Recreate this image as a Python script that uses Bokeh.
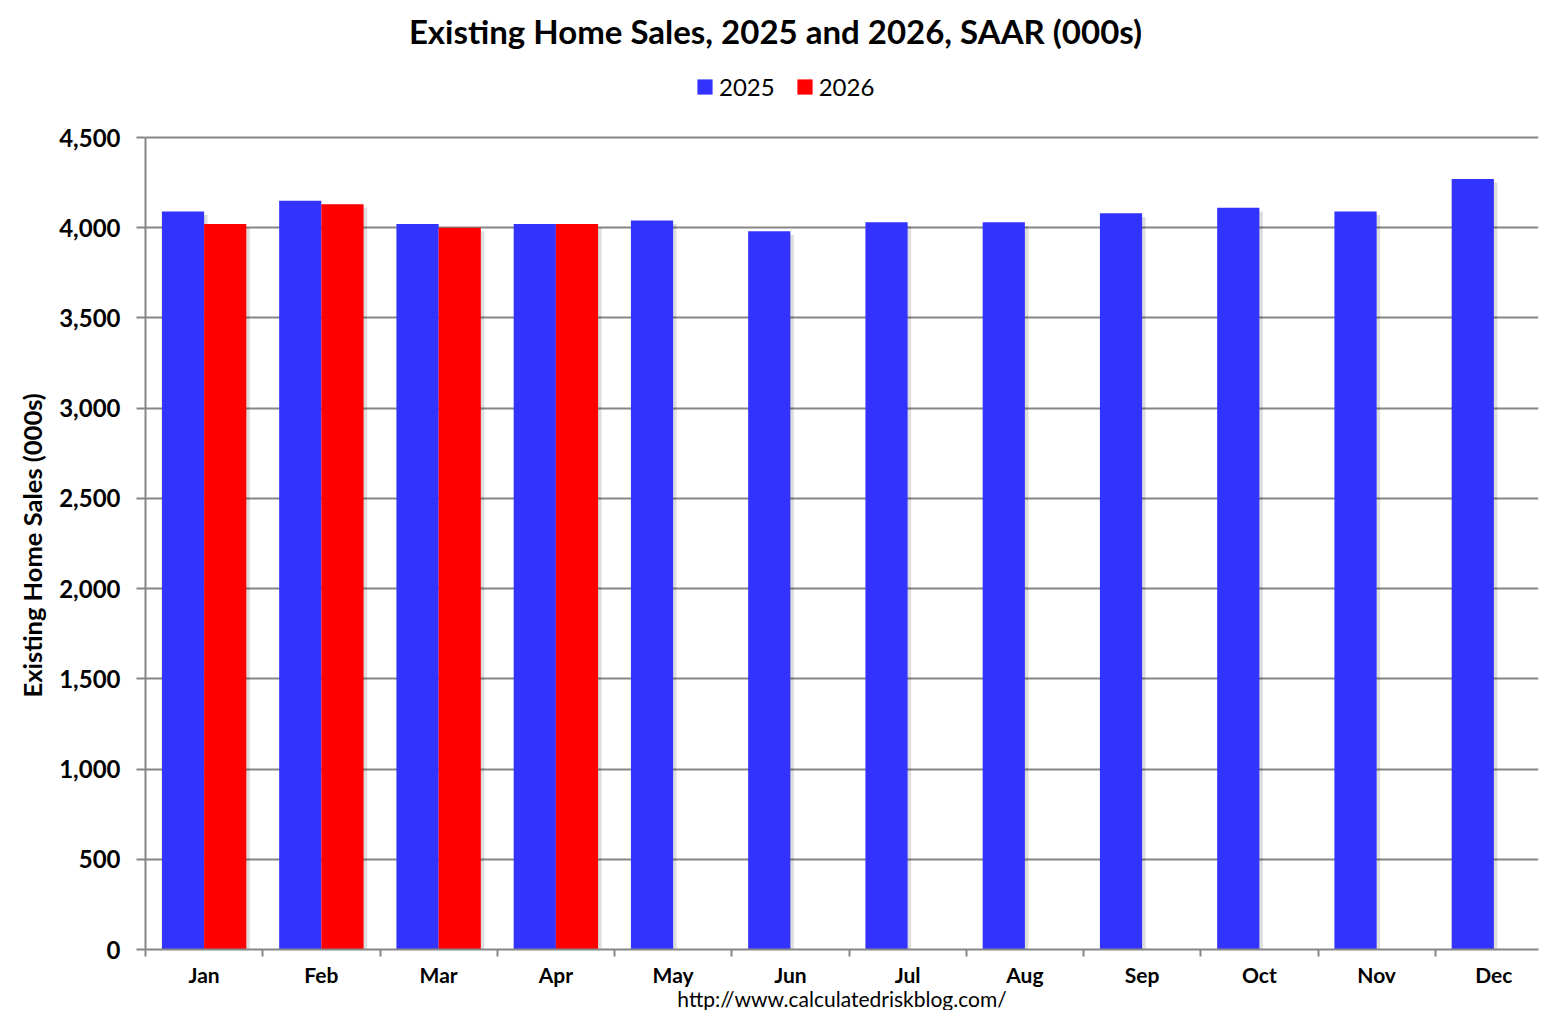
from bokeh.plotting import figure
from bokeh.models import (ColumnDataSource, Legend, LegendItem, Label, FixedTicker,
                          NumeralTickFormatter, Range1d, Title)
from bokeh.embed import file_html
from bokeh.resources import INLINE

# ---- data ----
months = ["Jan", "Feb", "Mar", "Apr", "May", "Jun", "Jul", "Aug", "Sep", "Oct", "Nov", "Dec"]
sales_2025 = [4090, 4150, 4020, 4020, 4040, 3980, 4030, 4030, 4080, 4110, 4090, 4270]
sales_2026 = [4020, 4130, 4000, 4020]
y_ticks = [0, 500, 1000, 1500, 2000, 2500, 3000, 3500, 4000, 4500]
title_text = "Existing Home Sales,  2025 and 2026, SAAR (000s)"
y_title = "Existing Home Sales (000s)"
footer_text = "http://www.calculatedriskblog.com/"

BLUE = "#3333FF"
RED = "#FF0000"
GRID = "#868686"
FONT = "Lato"

OFF = 0.18
W = 0.36

# layout (pixels)
FIG_W, FIG_H = 1540, 1010
LEFT, RIGHT, TOP, BOTTOM = 145, 2, 0, 61
FRAME_W = FIG_W - LEFT - RIGHT
FRAME_H = FIG_H - TOP - BOTTOM
CAT_PX = 117.25          # pixel width of one month
Y_TOP_PX = 137           # pixel row of 4,500 (from top)
y_end = 4500 * FRAME_H / (FRAME_H - Y_TOP_PX)
x_end = FRAME_W / CAT_PX

x25 = [i + 0.5 - OFF for i in range(len(sales_2025))]
x26 = [i + 0.5 + OFF for i in range(len(sales_2026))]
src25 = ColumnDataSource(dict(x=x25, top=sales_2025, xs=[v + 0.03 for v in x25],
                              ts=[v - 20 for v in sales_2025]))
src26 = ColumnDataSource(dict(x=x26, top=sales_2026, xs=[v + 0.03 for v in x26],
                              ts=[v - 20 for v in sales_2026]))

p = figure(width=FIG_W, height=FIG_H, output_backend="svg", toolbar_location=None,
           title=None, x_range=Range1d(0, x_end), y_range=Range1d(0, y_end),
           min_border_left=LEFT, min_border_right=RIGHT, min_border_top=TOP,
           min_border_bottom=BOTTOM)
p.outline_line_color = None
p.background_fill_color = "white"
p.border_fill_color = "white"

# shadows
for s in (src25, src26):
    p.vbar(x="xs", top="ts", width=W, bottom=0, source=s, fill_color="#000000",
           fill_alpha=0.13, line_color=None)
r25 = p.vbar(x="x", top="top", width=W, bottom=0, source=src25, fill_color=BLUE, line_color=None)
r26 = p.vbar(x="x", top="top", width=W, bottom=0, source=src26, fill_color=RED, line_color=None)

# axes
xa = p.xaxis[0]
xa.ticker = FixedTicker(ticks=[i + 0.5 for i in range(12)], minor_ticks=list(range(13)))
xa.major_label_overrides = {i + 0.5: m for i, m in enumerate(months)}
xa.major_tick_line_color = None
xa.minor_tick_line_color = GRID
xa.minor_tick_line_width = 2
xa.minor_tick_in = 0
xa.minor_tick_out = 7
xa.axis_line_color = GRID
xa.axis_line_width = 2
xa.major_label_text_font = FONT
xa.major_label_text_font_style = "bold"
xa.major_label_text_font_size = "21px"
xa.major_label_text_color = "black"
xa.major_label_standoff = 5

ya = p.yaxis[0]
ya.ticker = FixedTicker(ticks=y_ticks)
ya.bounds = (0, 4500)
ya.formatter = NumeralTickFormatter(format="0,0")
ya.major_tick_line_color = GRID
ya.major_tick_line_width = 2
ya.major_tick_in = 0
ya.major_tick_out = 9
ya.minor_tick_line_color = None
ya.axis_line_color = GRID
ya.axis_line_width = 2
ya.major_label_text_font = FONT
ya.major_label_text_font_style = "bold"
ya.major_label_text_font_size = "24px"
ya.major_label_text_color = "black"
ya.major_label_standoff = 16

# y-axis title as a side-panel title so it can be centred on the 0..4,500 span
p.add_layout(Title(text=y_title, align="left", offset=FRAME_H - 697, standoff=20,
                   text_font=FONT, text_font_style="bold", text_font_size="25.5px",
                   text_color="black"), "left")

p.xgrid.grid_line_color = None
p.ygrid.ticker = FixedTicker(ticks=y_ticks)
p.ygrid.bounds = (0, 4500)
p.ygrid.grid_line_color = GRID
p.ygrid.grid_line_width = 2

# legend (inside the tall frame, above the 4,500 line)
legend = Legend(items=[LegendItem(label="2025", renderers=[r25]),
                       LegendItem(label="2026", renderers=[r26])],
                orientation="horizontal", location=(695 - LEFT, FRAME_H - 87 - 14),
                glyph_width=19, glyph_height=19, label_height=28,
                label_standoff=5, spacing=20, padding=0, margin=0,
                border_line_color=None, background_fill_alpha=0,
                label_text_font=FONT, label_text_font_size="24px", label_text_color="black")
p.add_layout(legend, "center")

# title inside the frame's top area
p.add_layout(Label(x=779 - LEFT, y=FRAME_H - 30, x_units="screen", y_units="screen",
                   text=title_text, text_align="center", text_baseline="middle",
                   text_font=FONT, text_font_style="bold", text_font_size="33px",
                   text_color="black"))

# footer below the x axis
p.add_layout(Title(text=footer_text, align="center", standoff=-7, vertical_align="top",
                   text_font=FONT, text_font_style="normal", text_font_size="21px",
                   text_color="black"),
             "below")

open("out.html", "w").write(file_html(p, INLINE))
